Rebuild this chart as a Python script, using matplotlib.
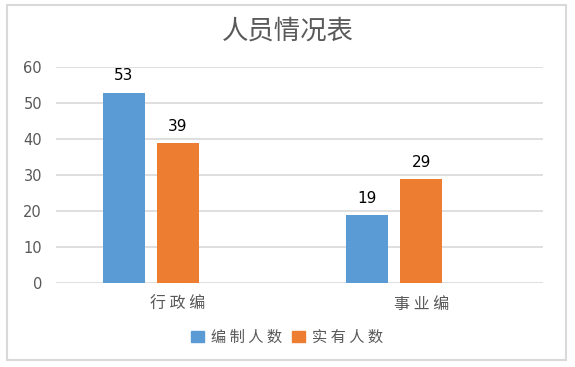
import matplotlib
matplotlib.use("Agg")
import matplotlib.pyplot as plt
from matplotlib.patches import Rectangle, Patch
import numpy as np

plt.rcParams['font.family'] = ['Noto Sans CJK SC', 'DejaVu Sans']

title = "人员情况表"
categories = ["行政编", "事业编"]
series_names = ["编制人数", "实有人数"]
bianzhi = [53, 19]
shiyou = [39, 29]
yticks = [0, 10, 20, 30, 40, 50, 60]

blue = "#5B9BD5"
orange = "#ED7D31"
textc = "#595959"
gridc = "#D9D9D9"

fig = plt.figure(figsize=(5.75, 3.67), dpi=100)
ax = fig.add_axes([56/575, 1-283.3/367, (543-56)/575, (283.3-67.3)/367])

x = np.arange(len(categories))
w = 0.1725
off = 0.2218
b1 = ax.bar(x - off, bianzhi, width=w, color=blue, zorder=3)
b2 = ax.bar(x, shiyou, width=w, color=orange, zorder=3)

for bars in (b1, b2):
    for r in bars:
        ax.annotate(f"{int(r.get_height())}", (r.get_x() + r.get_width()/2, r.get_height()),
                    xytext=(0, 12), textcoords="offset points", ha="center", va="center",
                    fontsize=11, color="black", family="DejaVu Sans")

ax.set_xlim(-0.5, 1.5)
ax.set_ylim(0, 60)
ax.set_yticks(yticks)
ax.set_yticklabels([str(v) for v in yticks], color=textc, fontsize=10.5, family="DejaVu Sans")
ax.set_xticks(x)
ax.set_xticklabels([" ".join(c) for c in categories], color=textc, fontsize=11.5)
ax.tick_params(axis='y', length=0, pad=10)
ax.tick_params(axis='x', length=0, pad=9)
ax.grid(axis='y', color=gridc, linewidth=1.2, zorder=0)
for s in ax.spines.values():
    s.set_visible(False)

fig.text(0.5, 1-31.5/367, title, ha="center", va="center", fontsize=19,
         color=textc, fontweight="light")

handles = [Patch(color=blue), Patch(color=orange)]
fig.legend(handles, [" ".join(n) for n in series_names], loc="center",
           bbox_to_anchor=(287/575, 1-337/367), ncol=2, frameon=False,
           fontsize=11, labelcolor=textc, handlelength=0.85, handleheight=0.75,
           handletextpad=0.5, columnspacing=0.6)

fig.patches.append(Rectangle((7/575, 1-360/367), (566-7)/575, (360-5)/367,
                             transform=fig.transFigure, fill=False,
                             edgecolor=gridc, linewidth=1.5))

fig.savefig("out.png", dpi=100)
